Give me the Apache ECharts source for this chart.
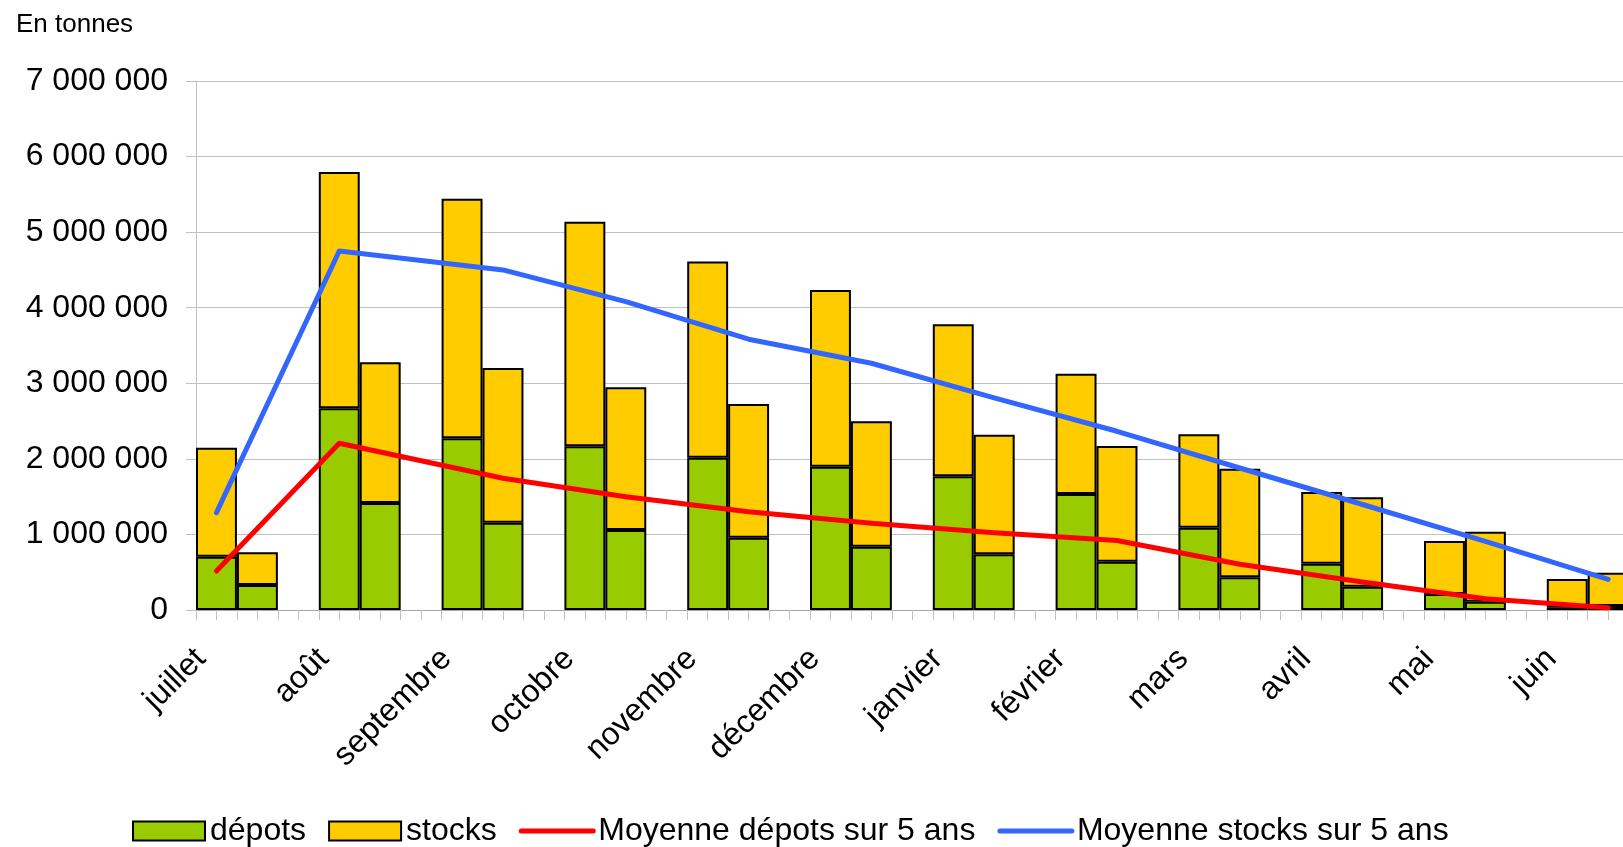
<!DOCTYPE html>
<html>
<head>
<meta charset="utf-8">
<script src="https://cdn.jsdelivr.net/npm/echarts@6/dist/echarts.min.js"></script>
<style>
  html, body { margin: 0; padding: 0; background: #ffffff; }
  #chart { width: 1623px; height: 847px; }
</style>
</head>
<body>
<div id="chart"></div>
<script>
// Months (x-axis labels)
const months = ['juillet', 'août', 'septembre', 'octobre', 'novembre', 'décembre',
                'janvier', 'février', 'mars', 'avril', 'mai', 'juin'];

// First bar of each month (tonnes)
const depotsA = [705000, 2669000, 2272000, 2166000, 2016000, 1897000, 1771000, 1535000, 1089000, 613000, 212000, 30000];
const stocksA = [1443000, 3128000, 3171000, 2973000, 2594000, 2338000, 2010000, 1592000, 1236000, 949000, 701000, 380000];

// Second bar of each month (tonnes)
const depotsB = [331000, 1416000, 1155000, 1059000, 957000, 838000, 737000, 639000, 433000, 308000, 110000, 53000];
const stocksB = [433000, 1862000, 2048000, 1888000, 1769000, 1659000, 1583000, 1531000, 1437000, 1184000, 926000, 441000];

// 5-year averages (tonnes)
const moyDepots = [516000, 2206000, 1743000, 1499000, 1301000, 1147000, 1023000, 920000, 605000, 370000, 150000, 30000];
const moyStocks = [1288000, 4751000, 4500000, 4080000, 3583000, 3265000, 2806000, 2365000, 1879000, 1396000, 907000, 406000];

// Bar slot (0..35) on which each average point sits
const lineSlot = [0, 3, 7, 10, 13, 16, 19, 22, 25, 28, 31, 34];

// y ticks
const yMax = 7000000;
const yStep = 1000000;

// ---- build the 36-slot category layout (bar A, bar B, gap per month)
const slots = [];
const depotsData = [];
const stocksData = [];
months.forEach((m, i) => {
  slots.push(m + ' A', m + ' B', m + ' -');
  depotsData.push(depotsA[i], depotsB[i], '-');
  stocksData.push(stocksA[i], stocksB[i], '-');
});
const nSlots = slots.length;
const LABEL_SHIFT = 0.12; // small shift of month labels to the right (in slots)
const labelValues = months.map((m, i) => i * 3 + LABEL_SHIFT);
const tickValues = [];
for (let t = 0; t <= nSlots * 2; t++) tickValues.push(t / 2);

const fmtSpace = v => String(v).replace(/\B(?=(\d{3})+(?!\d))/g, ' ');

const FONT = 'Liberation Sans, Arial, sans-serif';
const chart = echarts.init(document.getElementById('chart'), null, { renderer: 'canvas' });

chart.setOption({
  animation: false,
  backgroundColor: '#ffffff',
  textStyle: { fontFamily: FONT },
  title: {
    text: 'En tonnes',
    left: 11,
    top: 7,
    textStyle: { fontFamily: FONT, fontSize: 26, fontWeight: 'normal', color: '#000' }
  },
  legend: {
    left: 127,
    top: 810,
    itemWidth: 72,
    itemHeight: 19,
    itemGap: 22,
    lineStyle: { width: 5 },
    textStyle: { fontFamily: FONT, fontSize: 32, color: '#000' },
    data: [
      { name: 'dépots', icon: 'rect' },
      { name: 'stocks', icon: 'rect' },
      { name: 'Moyenne dépots sur 5 ans', itemStyle: { opacity: 0 }, lineStyle: { width: 5, color: '#ff0000' } },
      { name: 'Moyenne stocks sur 5 ans', itemStyle: { opacity: 0 }, lineStyle: { width: 5, color: '#3366ff' } }
    ]
  },
  grid: { left: 196, top: 81, width: 1473.6, height: 529, containLabel: false, outerBoundsMode: 'none' },
  xAxis: [
    {
      type: 'category',
      data: slots,
      position: 'top',
      boundaryGap: true,
      axisLine: { show: false },
      axisTick: { show: false },
      axisLabel: { show: false },
      splitLine: { show: false }
    },
    {
      type: 'value',
      min: 0,
      max: nSlots,
      position: 'bottom',
      axisLine: { show: true, lineStyle: { color: '#a6a6a6', width: 1 } },
      axisTick: { show: true, length: 10, customValues: tickValues,
                  lineStyle: { color: '#c0c0c0', width: 1 } },
      axisLabel: {
        show: true,
        customValues: labelValues,
        rotate: 45,
        margin: 44,
        fontFamily: FONT,
        fontSize: 32,
        color: '#000',
        formatter: v => months[Math.round((v - LABEL_SHIFT) / 3)] || ''
      },
      splitLine: { show: false }
    }
  ],
  yAxis: {
    type: 'value',
    min: 0,
    max: yMax,
    interval: yStep,
    axisLine: { show: true, lineStyle: { color: '#c0c0c0', width: 1 } },
    axisTick: { show: true, length: 10, lineStyle: { color: '#c0c0c0', width: 1 } },
    axisLabel: { margin: 28, fontFamily: FONT, fontSize: 32, color: '#000', formatter: fmtSpace },
    splitLine: { show: true, lineStyle: { color: '#c0c0c0', width: 1 } }
  },
  series: [
    {
      name: 'dépots',
      type: 'bar',
      stack: 'tot',
      xAxisIndex: 0,
      barCategoryGap: '0%',
      itemStyle: { color: '#99cc00', borderColor: '#000000', borderWidth: 2 },
      data: depotsData,
      z: 2
    },
    {
      name: 'stocks',
      type: 'bar',
      stack: 'tot',
      xAxisIndex: 0,
      barCategoryGap: '0%',
      itemStyle: { color: '#ffcc00', borderColor: '#000000', borderWidth: 2 },
      data: stocksData,
      z: 2
    },
    {
      name: 'Moyenne dépots sur 5 ans',
      type: 'line',
      xAxisIndex: 1,
      symbol: 'none',
      lineStyle: { color: '#ff0000', width: 5, cap: 'round', join: 'round' },
      itemStyle: { color: '#ff0000' },
      data: lineSlot.map((s, i) => [s + 0.5, moyDepots[i]]),
      z: 5
    },
    {
      name: 'Moyenne stocks sur 5 ans',
      type: 'line',
      xAxisIndex: 1,
      symbol: 'none',
      lineStyle: { color: '#3366ff', width: 5, cap: 'round', join: 'round' },
      itemStyle: { color: '#3366ff' },
      data: lineSlot.map((s, i) => [s + 0.5, moyStocks[i]]),
      z: 5
    }
  ]
});
</script>
</body>
</html>
